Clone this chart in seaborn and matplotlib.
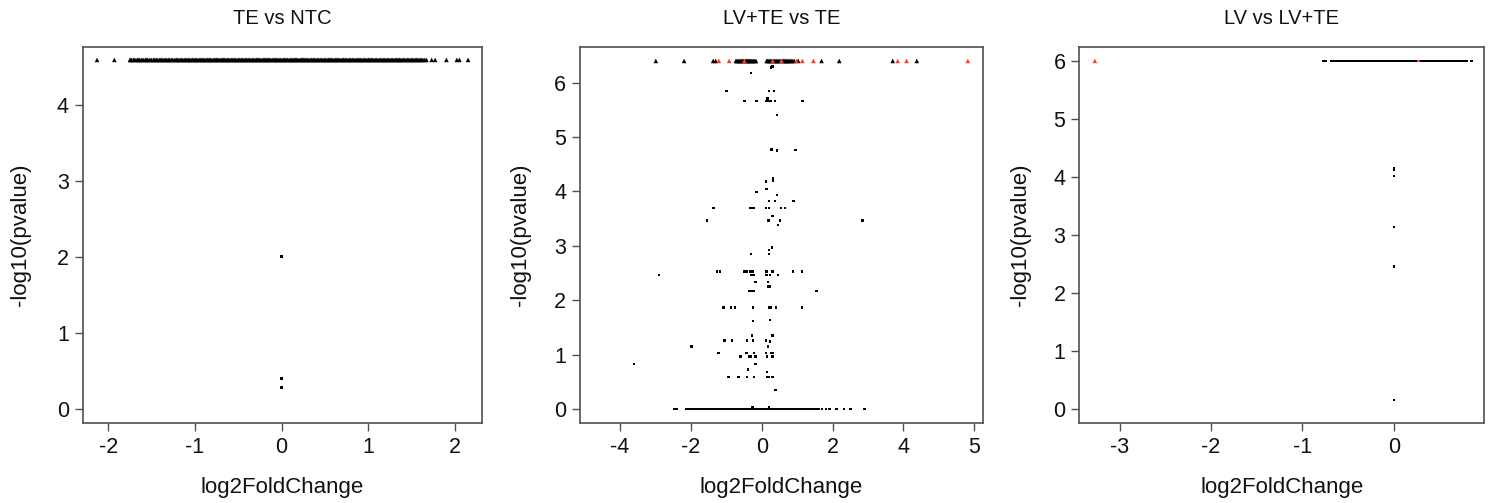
import matplotlib
matplotlib.use("Agg")
import matplotlib.pyplot as plt
import seaborn as sns
import pandas as pd

sns.set_theme(style="white")
plt.rcParams["font.family"] = ["Liberation Sans", "DejaVu Sans"]
plt.rcParams["axes.unicode_minus"] = False

# ---------------- TE vs NTC ----------------
te_ntc_cap = 4.6
te_ntc_top_x = [
    -2.13, -1.93, -1.75, -1.73, -1.70, -1.66, -1.64, -1.61, -1.57, -1.55, -1.52,
    -1.48, -1.46, -1.43, -1.40, -1.37, -1.34, -1.31, -1.29, -1.26, -1.22, -1.20,
    -1.17, -1.14, -1.11, -1.08, -1.06, -1.03, -1.00, -0.98, -0.95, -0.92, -0.90,
    -0.87, -0.84, -0.82, -0.79, -0.76, -0.74, -0.71, -0.68, -0.66, -0.63, -0.61,
    -0.58, -0.55, -0.53, -0.50, -0.47, -0.45, -0.42, -0.40, -0.37, -0.34, -0.32,
    -0.29, -0.27, -0.24, -0.21, -0.19, -0.16, -0.14, -0.11, -0.08, -0.06, -0.03,
    -0.01, 0.02, 0.04, 0.07, 0.10, 0.12, 0.15, 0.17, 0.20, 0.23, 0.25, 0.28,
    0.30, 0.33, 0.36, 0.38, 0.41, 0.43, 0.46, 0.49, 0.51, 0.54, 0.56, 0.59,
    0.62, 0.64, 0.67, 0.70, 0.72, 0.75, 0.78, 0.80, 0.83, 0.86, 0.89, 0.91,
    0.94, 0.97, 1.00, 1.02, 1.05, 1.08, 1.11, 1.14, 1.17, 1.19, 1.22, 1.25,
    1.28, 1.31, 1.34, 1.36, 1.39, 1.42, 1.45, 1.48, 1.51, 1.54, 1.57, 1.60,
    1.63, 1.67, 1.73, 1.77, 1.90, 2.02, 2.05, 2.15,
    -1.74, -1.71, -1.68, -1.65, -1.62, -1.59, -1.56, -1.53, -1.50, -1.47, -1.44,
    -1.41, -1.385, -1.355, -1.325, -1.30, -1.275, -1.24, -1.21, -1.185, -1.155,
    -1.125, -1.095, -1.07, -1.045, -1.015, -0.99, -0.965, -0.935, -0.91, -0.885,
    -0.855, -0.83, -0.805, -0.775, -0.75, -0.725, -0.695, -0.67, -0.645, -0.62,
    -0.595, -0.565, -0.54, -0.515, -0.485, -0.46, -0.435, -0.41, -0.385, -0.355,
    -0.33, -0.305, -0.28, -0.255, -0.225, -0.20, -0.175, -0.15, -0.125, -0.095,
    -0.07, -0.045, -0.02, 0.005, 0.03, 0.055, 0.085, 0.11, 0.135, 0.16, 0.185,
    0.215, 0.24, 0.265, 0.29, 0.315, 0.345, 0.37, 0.395, 0.42, 0.445, 0.475,
    0.50, 0.525, 0.55, 0.575, 0.605, 0.63, 0.655, 0.685, 0.71, 0.735, 0.765,
    0.79, 0.815, 0.845, 0.875, 0.90, 0.925, 0.955, 0.985, 1.01, 1.035, 1.065,
    1.095, 1.125, 1.155, 1.18, 1.205, 1.235, 1.265, 1.295, 1.325, 1.35, 1.375,
    1.405, 1.435, 1.465, 1.495, 1.525, 1.555, 1.585, 1.615, 1.65,
]
te_ntc_dot_x = [0.0, 0.0, 0.0, 0.0]
te_ntc_dot_y = [2.01, 0.40, 0.29, 0.28]

# ---------------- LV+TE vs TE ----------------
lvte_cap = 6.4
lvte_top_black_x = [
    -2.99, -2.19, -1.37, -1.30, -0.73, -0.70, -0.67, -0.64, -0.61, -0.58, -0.55,
    -0.52, -0.46, -0.43, -0.40, -0.37, -0.34, -0.31, -0.28, -0.25, -0.22, -0.19,
    -0.16, 0.14, 0.17, 0.20, 0.23, 0.26, 0.29, 0.34, 0.37, 0.40, 0.43, 0.46,
    0.49, 0.52, 0.59, 0.62, 0.65, 0.68, 0.71, 0.74, 0.77, 0.80, 0.84, 0.88,
    0.92, 1.03, 1.69, 2.19, 3.70, 4.38,
]
lvte_top_red_x = [-1.21, -0.92, -0.49, 0.31, 0.56, 0.98, 1.15, 1.46, 3.84, 4.09, 5.82]
lvte_dot_x = [
    -0.30, 0.26, 0.30,
    -0.99, 0.21, 0.34,
    -0.49, -0.15, 0.14, 0.20, 0.25, 0.38, 0.16, 1.15,
    0.44,
    0.28, 0.43, 0.95,
    0.32, 0.32, 0.12, 0.14, -0.15, 0.43,
    0.20, 0.37, 0.90,
    -1.36, -0.33, -0.26, -0.22, 0.12, 0.20, 0.54, 0.65,
    0.31,
    -1.54, 0.17, 0.21, 0.51, 2.85,
    0.46,
    0.29, 0.20, -0.30, 0.21,
    -1.27, -1.17, -0.48, -0.43, -0.33, -0.26, 0.14, 0.31, 0.88, 1.14,
    -2.90, -0.30, -0.23, 0.14, 0.23, 0.46,
    -0.18, 0.17,
    0.17, 0.24,
    -0.35, -0.29, -0.22, 1.55,
    -1.08, -0.86, -0.75, -0.25, 0.20, 0.25, 0.40, 1.13,
    -0.24, 0.24,
    -0.27, 0.31,
    -1.05, -0.84, -0.41, -0.25, 0.12, 0.24,
    -1.98, 0.17,
    -1.24, -1.20, -0.43, -0.21, 0.12, 0.28, 0.32,
    -0.60, -0.35, -0.30, -0.18, 0.15, 0.31,
    -3.61, -0.18,
    -0.38,
    0.15,
    -0.94, -0.65, -0.42, -0.21, 0.15, 0.20, 0.31,
    0.39,
    -0.26, 0.20,
]
lvte_dot_y = [
    6.18, 6.28, 6.30,
    5.85, 5.85, 5.85,
    5.66, 5.66, 5.66, 5.66, 5.66, 5.66, 5.71, 5.66,
    5.41,
    4.77, 4.75, 4.76,
    4.24, 4.19, 4.18, 4.05, 3.99, 3.94,
    3.82, 3.82, 3.82,
    3.70, 3.70, 3.70, 3.70, 3.70, 3.70, 3.70, 3.70,
    3.55,
    3.47, 3.47, 3.47, 3.47, 3.47,
    3.38,
    2.97, 2.92, 2.85, 2.85,
    2.53, 2.53, 2.53, 2.53, 2.53, 2.53, 2.53, 2.53, 2.53, 2.53,
    2.46, 2.46, 2.46, 2.46, 2.46, 2.46,
    2.34, 2.34,
    2.25, 2.25,
    2.17, 2.17, 2.17, 2.17,
    1.87, 1.87, 1.87, 1.87, 1.87, 1.87, 1.87, 1.87,
    1.62, 1.64,
    1.35, 1.35,
    1.26, 1.26, 1.26, 1.26, 1.26, 1.24,
    1.15, 1.15,
    1.03, 1.03, 1.03, 1.03, 1.03, 1.03, 1.03,
    0.97, 0.97, 0.97, 0.97, 0.97, 0.97,
    0.83, 0.83,
    0.73,
    0.68,
    0.59, 0.59, 0.59, 0.59, 0.59, 0.59, 0.59,
    0.35,
    0.03, 0.03,
]
lvte_zero_x = [
    -2.48, -2.40, -2.12, -2.08, -2.03, -1.99, -1.94, -1.90, -1.85, -1.81, -1.76,
    -1.72, -1.67, -1.63, -1.58, -1.54, -1.49, -1.45, -1.40, -1.36, -1.31, -1.27,
    -1.22, -1.18, -1.13, -1.09, -1.04, -1.00, -0.95, -0.91, -0.86, -0.82, -0.77,
    -0.73, -0.68, -0.64, -0.59, -0.55, -0.50, -0.46, -0.41, -0.37, -0.32, -0.28,
    -0.23, -0.19, -0.14, -0.10, -0.05, -0.01, 0.04, 0.08, 0.13, 0.17, 0.22,
    0.26, 0.31, 0.35, 0.40, 0.44, 0.49, 0.53, 0.58, 0.62, 0.67, 0.71, 0.76,
    0.80, 0.85, 0.89, 0.94, 0.98, 1.03, 1.07, 1.12, 1.16, 1.21, 1.25, 1.30,
    1.34, 1.39, 1.43, 1.48, 1.52, 1.55, 1.61, 1.70, 1.81, 1.92, 2.11, 2.33,
    2.51, 2.90,
]
lvte_xticks = [-4, -2, 0, 2, 4, 6]
lvte_xticklabels = ["-4", "-2", "0", "2", "4", "5"]

# ---------------- LV vs LV+TE ----------------
lv_cap = 6.0
lv_top_red_x = [-3.27, 0.27]
lv_top_black_x = [
    -0.77, -0.74, -0.68, -0.66, -0.63, -0.61, -0.58, -0.56, -0.53, -0.51, -0.48,
    -0.46, -0.43, -0.41, -0.38, -0.36, -0.33, -0.31, -0.28, -0.26, -0.23, -0.21,
    -0.18, -0.16, -0.13, -0.11, -0.08, -0.06, -0.03, -0.01, 0.02, 0.04, 0.07,
    0.09, 0.12, 0.14, 0.17, 0.19, 0.22, 0.25, 0.29, 0.32, 0.34, 0.37, 0.39,
    0.42, 0.44, 0.47, 0.49, 0.52, 0.54, 0.57, 0.59, 0.62, 0.64, 0.67, 0.69,
    0.72, 0.74, 0.77, 0.80, 0.85,
    -0.67, -0.645, -0.62, -0.595, -0.57, -0.545, -0.52, -0.495, -0.47, -0.445,
    -0.42, -0.395, -0.37, -0.345, -0.32, -0.295, -0.27, -0.245, -0.22, -0.195,
    -0.17, -0.145, -0.12, -0.095, -0.07, -0.045, -0.02, 0.005, 0.03, 0.055,
    0.08, 0.105, 0.13, 0.155, 0.18, 0.205, 0.235, 0.27, 0.305, 0.33, 0.355,
    0.38, 0.405, 0.43, 0.455, 0.48, 0.505, 0.53, 0.555, 0.58, 0.605, 0.63,
    0.655, 0.68, 0.705, 0.73, 0.755, 0.785,
]
lv_dot_x = [0.0, 0.0, 0.0, 0.0, 0.0, 0.0]
lv_dot_y = [4.14, 4.12, 4.01, 3.13, 2.45, 0.15]

W, H = 1493, 503
fig = plt.figure(figsize=(W / 100, H / 100), dpi=100)

EDGE = "#505050"
RED = "#ff3b30"
TOP, BOTTOM = 47, 423


def axes_at(x0, x1):
    return fig.add_axes([x0 / W, 1 - BOTTOM / H, (x1 - x0) / W, (BOTTOM - TOP) / H])


def style(ax, title, xlim, ylim, xticks, yticks, ylabel_x, xticklabels=None):
    ax.set_xlim(*xlim)
    ax.set_ylim(*ylim)
    ax.set_xticks(xticks)
    if xticklabels is not None:
        ax.set_xticklabels(xticklabels)
    ax.set_yticks(yticks)
    for s in ax.spines.values():
        s.set_color(EDGE)
        s.set_linewidth(1.2)
    ax.tick_params(axis="both", direction="out", length=6, width=1.0,
                   color=EDGE, labelsize=15.5, labelcolor="#111111", pad=4,
                   bottom=True, left=True)
    # place axis labels and title at fixed pixel offsets from the frame
    x0, x1 = ax.get_position().x0 * W, ax.get_position().x1 * W
    h = BOTTOM - TOP
    ax.set_xlabel("log2FoldChange", fontsize=16, color="#111111")
    ax.xaxis.set_label_coords(0.5, (BOTTOM - 487) / h)
    ax.xaxis.label.set_va("center")
    ax.set_ylabel("-log10(pvalue)", fontsize=16, color="#111111")
    ax.yaxis.set_label_coords((ylabel_x - x0) / (x1 - x0), 0.5)
    ax.yaxis.label.set_va("center")
    ax.set_title(title, fontsize=14.5, color="#111111",
                 y=(BOTTOM - 18) / h, va="center", pad=0)
    ax.grid(False)


def tri(ax, xs, y, color, size=11):
    df = pd.DataFrame({"x": xs, "y": [y] * len(xs)})
    sns.scatterplot(data=df, x="x", y="y", ax=ax, marker="^", s=size,
                    color=color, edgecolor="none", linewidth=0, legend=False)


def dots(ax, xs, ys, color="black", size=3):
    df = pd.DataFrame({"x": xs, "y": ys})
    sns.scatterplot(data=df, x="x", y="y", ax=ax, marker="s", s=size,
                    color=color, edgecolor="none", linewidth=0, legend=False)


# Panel 1
ax1 = axes_at(82.7, 481.7)
tri(ax1, te_ntc_top_x, te_ntc_cap, "black")
dots(ax1, te_ntc_dot_x, te_ntc_dot_y)
style(ax1, "TE vs NTC", (-2.295, 2.307), (-0.185, 4.77),
      [-2, -1, 0, 1, 2], [0, 1, 2, 3, 4], 20)

# Panel 2
ax2 = axes_at(580, 982.7)
tri(ax2, lvte_top_black_x, lvte_cap, "black")
tri(ax2, lvte_top_red_x, lvte_cap, RED)
dots(ax2, lvte_dot_x, lvte_dot_y)
dots(ax2, lvte_zero_x, [0.0] * len(lvte_zero_x))
style(ax2, "LV+TE vs TE", (-5.13, 6.24), (-0.256, 6.656),
      lvte_xticks, [0, 1, 2, 3, 4, 5, 6], 520, lvte_xticklabels)

# Panel 3
ax3 = axes_at(1079.3, 1484.3)
dots(ax3, lv_top_black_x, [lv_cap] * len(lv_top_black_x))
tri(ax3, lv_top_red_x[:1], lv_cap, RED)
dots(ax3, lv_top_red_x[1:], [lv_cap], color=RED)
dots(ax3, lv_dot_x, lv_dot_y)
style(ax3, "LV vs LV+TE", (-3.44, 0.99), (-0.25, 6.24),
      [-3, -2, -1, 0], [0, 1, 2, 3, 4, 5, 6], 1021)

fig.savefig("out.png", dpi=100)
